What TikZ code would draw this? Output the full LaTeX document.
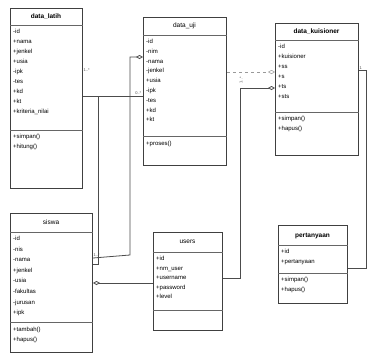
\documentclass[tikz,border=0pt]{standalone}
\usepackage{fontspec}
\setmainfont{Liberation Sans}
\usetikzlibrary{arrows.meta}
\begin{document}
\begin{tikzpicture}[x=1pt,y=-1pt,
  box/.style={draw=black!75, line width=1pt, anchor=north west, inner sep=0pt},
  ttl/.style={font=\fontsize{6.5}{7}\selectfont, anchor=center, inner sep=0pt},
  bttl/.style={ttl, font=\fontsize{6.5}{7}\selectfont\bfseries},
  txt/.style={font=\fontsize{6}{#1}\selectfont, align=left, anchor=north west, inner sep=0pt},
  txt/.default=10,
  div/.style={draw=black!60, line width=0.6pt},
  conn/.style={draw=black!70, line width=0.8pt},
  faint/.style={draw=black!40, line width=0.5pt, dashed},
  dia/.style={-{Diamond[open,length=7pt,width=4pt]}},
  ml/.style={font=\fontsize{4}{5}\selectfont, inner sep=0.5pt, text=black!70}]
\useasboundingbox (0,0) rectangle (373,354);
\fill[white] (0,0) rectangle (373,354);

% data_latih
\node[box, minimum width=72pt, minimum height=180pt] (latih) at (10,8) {};
\node[bttl] (latihT) at (46,17) {data\_latih};
\draw[div] (latih.west |- 0,25) -- (latih.east |- 0,25);
\node[txt] (latihA) at (13,29) {-id\\+nama\\+jenkel\\+usia\\-ipk\\-tes\\+kd\\+kt\\+kriteria\_nilai};
\draw[div] (latih.west |- 0,130) -- (latih.east |- 0,130);
\node[txt=9.5] (latihM) at (13,134) {+simpan()\\+hitung()};

% data_uji
\node[box, minimum width=83pt, minimum height=148pt] (uji) at (143,17) {};
\node[ttl] (ujiT) at (184.5,26) {data\_uji};
\draw[div] (uji.west |- 0,35) -- (uji.east |- 0,35);
\node[txt=9.8] (ujiA) at (146,39) {-id\\-nim\\-nama\\-jenkel\\+usia\\-ipk\\-tes\\+kd\\+kt};
\draw[div] (uji.west |- 0,136) -- (uji.east |- 0,136);
\node[txt] (ujiM) at (146,141) {+proses()};

% data_kuisioner
\node[box, minimum width=83pt, minimum height=132pt] (kuis) at (275,23) {};
\node[bttl] (kuisT) at (316.5,32) {data\_kuisioner};
\draw[div] (kuis.west |- 0,40) -- (kuis.east |- 0,40);
\node[txt] (kuisA) at (278,44) {-id\\+kuisioner\\+ss\\+s\\+ts\\+sts};
\draw[div] (kuis.west |- 0,112) -- (kuis.east |- 0,112);
\node[txt] (kuisM) at (278,116) {+simpan()\\+hapus()};

% siswa
\node[box, minimum width=82pt, minimum height=139pt] (siswa) at (10,213) {};
\node[ttl] (siswaT) at (51,222) {siswa};
\draw[div] (siswa.west |- 0,232) -- (siswa.east |- 0,232);
\node[txt=10.6] (siswaA) at (13,236) {-id\\-nis\\-nama\\+jenkel\\-usia\\-fakultas\\-jurusan\\+ipk};
\draw[div] (siswa.west |- 0,322) -- (siswa.east |- 0,322);
\node[txt] (siswaM) at (13,327) {+tambah()\\+hapus()};

% users
\node[box, minimum width=69pt, minimum height=98pt] (users) at (153,232) {};
\node[ttl] (usersT) at (187.5,242) {users};
\draw[div] (users.west |- 0,252) -- (users.east |- 0,252);
\node[txt=9.5] (usersA) at (156,256) {+id\\+nm\_user\\+username\\+password\\+level};
\draw[div] (users.west |- 0,310) -- (users.east |- 0,310);

% pertanyaan
\node[box, minimum width=69pt, minimum height=78pt] (tanya) at (278,225) {};
\node[bttl] (tanyaT) at (312.5,236) {pertanyaan};
\draw[div] (tanya.west |- 0,245) -- (tanya.east |- 0,245);
\node[txt] (tanyaA) at (281,249) {+id\\+pertanyaan};
\draw[div] (tanya.west |- 0,273) -- (tanya.east |- 0,273);
\node[txt] (tanyaM) at (281,277) {+simpan()\\+hapus()};

% connectors
\coordinate (j1) at (98,96);
\coordinate (j2) at (130,57);
\coordinate (j3) at (240,88);
\coordinate (j4) at (366,70);
\draw[conn] (latih.east |- j1) -- (uji.west |- j1);
\node[ml, anchor=south west] (m1) at (83,72) {1..*};
\node[ml, anchor=south east] (m2) at (142,95) {0..*};
\draw[conn] (siswa.east |- 0,264) -- (j1 |- 0,264) -- (j1);
\draw[conn, dia] (siswa.east |- 0,258) -- (j2 |- 0,255) -- (j2) -- (uji.west |- j2);
\node[ml, anchor=south west] (m3) at (93,257) {1..*};
\draw[conn, {Diamond[open,length=7pt,width=4pt]}-] (siswa.east |- 0,283) -- (users.west |- 0,283);
\draw[faint, dia] (uji.east |- 0,72) -- (kuis.west |- 0,72);
\draw[conn, dia] (users.east |- 0,278) -- (j3 |- 0,278) -- (j3) -- (kuis.west |- j3);
\node[ml, anchor=south west, rotate=90] (m4) at (243,84) {1..*};
\draw[conn] (kuis.east |- j4) -- (j4) -- (j4 |- 0,268) -- (tanya.east |- 0,268);
\node[ml, anchor=south west] (m5) at (359,70) {1};
\end{tikzpicture}
\end{document}
